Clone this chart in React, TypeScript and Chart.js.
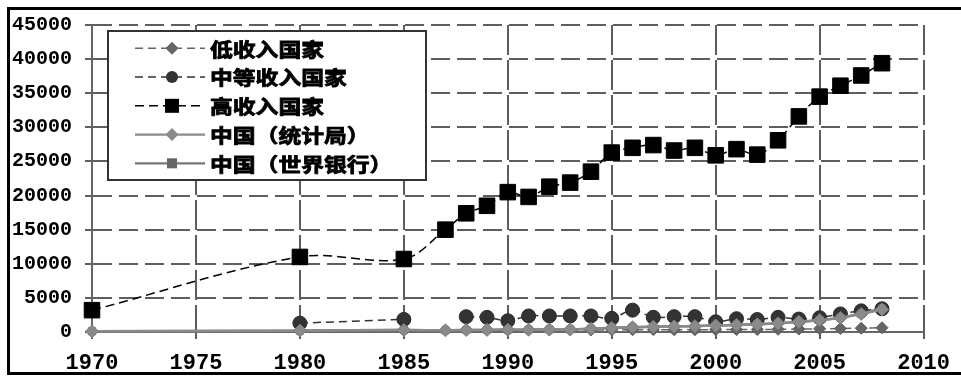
import React, { useEffect, useRef } from "react";
import { Chart, registerables } from "chart.js";

Chart.register(...registerables);

const years = [1970, 1980, 1985, 1987, 1988, 1989, 1990, 1991, 1992, 1993, 1994, 1995, 1996, 1997, 1998, 1999, 2000, 2001, 2002, 2003, 2004, 2005, 2006, 2007, 2008];
const seriesNames = ["低收入国家", "中等收入国家", "高收入国家", "中国（统计局）", "中国（世界银行）"];
const lowIncome = [null, 290, 310, null, 330, 340, 350, 340, 330, 320, 300, 320, 340, 350, 340, 340, 350, 350, 360, 390, 430, 470, 510, 560, 620];
const middleIncome = [null, 1300, 1850, null, 2250, 2150, 1650, 2350, 2350, 2350, 2350, 2000, 3200, 2150, 2250, 2250, 1500, 1950, 1830, 2150, 1900, 2100, 2650, 3100, 3400];
const highIncome = [3200, 11000, 10700, 15000, 17400, 18500, 20500, 19800, 21300, 21900, 23500, 26300, 27000, 27400, 26600, 27000, 25900, 26800, 26000, 28100, 31600, 34500, 36100, 37600, 39400];
const chinaNBS = [110, 200, 290, 250, 300, 310, 320, 330, 370, 380, 470, 600, 700, 770, 820, 860, 950, 1040, 1130, 1270, 1490, 1730, 2070, 2650, 3300];
const chinaWB = [112, 195, 294, 252, 284, 311, 318, 333, 366, 377, 473, 610, 709, 782, 829, 873, 959, 1053, 1149, 1289, 1509, 1753, 2099, 2694, 3468];
const xTicks = { min: 1970, max: 2010, step: 5 };
const yTicks = { min: 0, max: 45000, step: 5000 };

const toPoints = (arr: (number | null)[]) => years.map((x, i) => ({ x, y: arr[i] }));

function drawMarker(ctx: CanvasRenderingContext2D, style: string, x: number, y: number, r: number, color: string) {
  ctx.beginPath();
  if (style === "rectRot") {
    ctx.moveTo(x - r, y);
    ctx.lineTo(x, y - r);
    ctx.lineTo(x + r, y);
    ctx.lineTo(x, y + r);
    ctx.closePath();
  } else if (style === "circle") {
    ctx.arc(x, y, r, 0, Math.PI * 2);
  } else {
    ctx.rect(x - r, y - r, 2 * r, 2 * r);
  }
  ctx.fillStyle = color;
  ctx.fill();
}

const legendMarkerSize = [6.5, 6, 7, 6.5, 5];

const boxLegend = {
  id: "boxLegend",
  afterDraw(chart: any) {
    const ctx: CanvasRenderingContext2D = chart.ctx;
    ctx.save();
    ctx.fillStyle = "#fff";
    ctx.fillRect(108, 31, 318, 149);
    ctx.strokeStyle = "#333";
    ctx.lineWidth = 2;
    ctx.setLineDash([]);
    ctx.strokeRect(108, 31, 318, 149);
    chart.data.datasets.forEach((ds: any, i: number) => {
      const y = 48.3 + i * 28.75;
      ctx.beginPath();
      ctx.setLineDash(ds.borderDash || []);
      ctx.strokeStyle = ds.borderColor;
      ctx.lineWidth = ds.borderDash ? 1.5 : 2.2;
      ctx.moveTo(135, y);
      ctx.lineTo(205, y);
      ctx.stroke();
      ctx.setLineDash([]);
      drawMarker(ctx, ds.pointStyle, 172, y, legendMarkerSize[i], ds.pointBackgroundColor);
      ctx.save();
      ctx.translate(210, y + 1);
      ctx.scale(1.2, 1);
      ctx.font = 'bold 19px "Noto Sans CJK SC", "Noto Sans CJK JP", sans-serif';
      ctx.textBaseline = "middle";
      ctx.textAlign = "left";
      ctx.fillStyle = "#000";
      ctx.strokeStyle = "#000";
      ctx.lineWidth = 0.8;
      ctx.fillText(ds.label, 0, 0);
      ctx.strokeText(ds.label, 0, 0);
      ctx.restore();
    });
    ctx.restore();
  },
};

export default function App() {
  const ref = useRef<HTMLCanvasElement>(null);
  useEffect(() => {
    const common = { tension: 0.35, fill: false, clip: false as any, spanGaps: false, pointBorderWidth: 1 };
    const chart = new Chart(ref.current!, {
      type: "line",
      data: {
        datasets: [
          {
            ...common,
            label: seriesNames[0],
            data: toPoints(lowIncome) as any,
            borderColor: "#666",
            borderWidth: 1.5,
            borderDash: [8, 5],
            pointStyle: "rectRot",
            pointRadius: 6,
            pointBackgroundColor: "#666",
            pointBorderColor: "#5a5a5a",
            order: 2,
          },
          {
            ...common,
            label: seriesNames[1],
            data: toPoints(middleIncome) as any,
            borderColor: "#333",
            borderWidth: 1.5,
            borderDash: [8, 5],
            pointStyle: "circle",
            pointRadius: 7,
            pointBackgroundColor: "#333",
            pointBorderColor: "#2a2a2a",
            order: 4,
          },
          {
            ...common,
            label: seriesNames[2],
            data: toPoints(highIncome) as any,
            borderColor: "#000",
            borderWidth: 1.5,
            borderDash: [9, 5],
            pointStyle: "rect",
            pointRadius: 11,
            pointBackgroundColor: "#000",
            pointBorderColor: "#000",
            order: 3,
          },
          {
            ...common,
            label: seriesNames[3],
            data: toPoints(chinaNBS) as any,
            borderColor: "#8a8a8a",
            borderWidth: 2.5,
            pointStyle: "rectRot",
            pointRadius: 6.5,
            pointBackgroundColor: "#8a8a8a",
            pointBorderColor: "#808080",
            order: 0,
          },
          {
            ...common,
            label: seriesNames[4],
            data: toPoints(chinaWB) as any,
            borderColor: "#777",
            borderWidth: 2.5,
            pointStyle: "rect",
            pointRadius: 5,
            pointBackgroundColor: "#666",
            pointBorderColor: "#666",
            order: 1,
          },
        ] as any,
      },
      options: {
        responsive: false,
        animation: false,
        devicePixelRatio: 1,
        layout: { padding: { top: 17, right: 27, left: 0, bottom: 0 } },
        plugins: { legend: { display: false }, tooltip: { enabled: false } },
        scales: {
          x: {
            type: "linear",
            min: xTicks.min,
            max: xTicks.max,
            afterFit: (s: any) => {
              s.height = 44;
            },
            ticks: {
              stepSize: xTicks.step,
              autoSkip: false,
              maxRotation: 0,
              padding: 11,
              color: "#000",
              font: { family: '"Liberation Mono", monospace', size: 22, weight: "bold" },
              callback: (v: any) => String(v),
            },
            grid: { color: "#5e5e5e", lineWidth: 2, tickLength: 7, tickBorderDash: [] },
            border: { display: true, color: "#666", width: 2, dash: [30, 5] },
          },
          y: {
            min: yTicks.min,
            max: yTicks.max,
            afterFit: (s: any) => {
              s.width = 92;
            },
            ticks: {
              stepSize: yTicks.step,
              padding: 13,
              color: "#000",
              font: { family: '"Liberation Mono", monospace', size: 20, weight: "bold" },
              callback: (v: any) => String(v),
            },
            grid: { color: "#5e5e5e", lineWidth: 2, tickLength: 7, tickBorderDash: [] },
            border: { display: true, color: "#666", width: 2, dash: [19, 7] },
          },
        },
      } as any,
      plugins: [boxLegend],
    });
    return () => chart.destroy();
  }, []);

  return (
    <div
      style={{
        position: "absolute",
        left: 7,
        top: 7,
        width: 954,
        height: 368,
        boxSizing: "border-box",
        borderTop: "3px solid #000",
        borderLeft: "3px solid #000",
        borderBottom: "3px solid #000",
        overflow: "hidden",
        background: "#fff",
      }}
    >
      <canvas
        ref={ref}
        width={961}
        height={376}
        style={{ position: "absolute", left: -10, top: -10, width: 961, height: 376 }}
      />
    </div>
  );
}
